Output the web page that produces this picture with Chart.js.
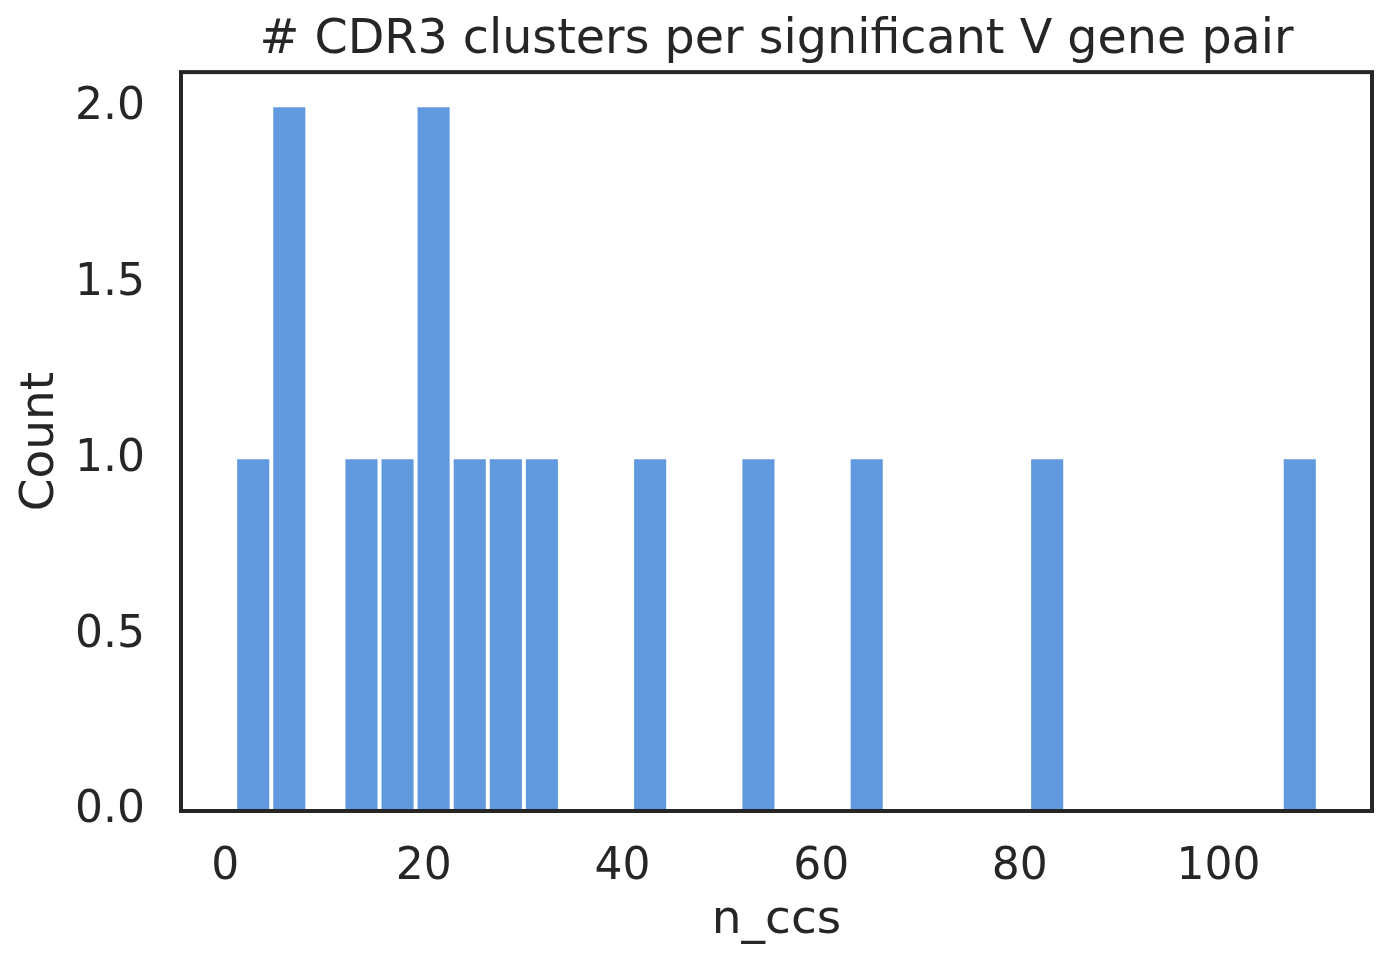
<!DOCTYPE html>
<html>
<head>
<meta charset="utf-8">
<script src="https://cdn.jsdelivr.net/npm/chart.js@4"></script>
<style>
  html, body { margin: 0; padding: 0; background: #fff; }
  #wrap { width: 1390px; height: 966px; }
</style>
</head>
<body>
<div id="wrap"><canvas id="histChart" width="1390" height="966"></canvas></div>
<script>
// bin centres of the 30 histogram bins (n_ccs from 1 to 110)
const binCenters = [2.82, 6.45, 10.08, 13.72, 17.35, 20.98, 24.62, 28.25, 31.88, 35.52,
    39.15, 42.78, 46.42, 50.05, 53.68, 57.32, 60.95, 64.58, 68.22, 71.85,
    75.48, 79.12, 82.75, 86.38, 90.02, 93.65, 97.28, 100.92, 104.55, 108.18];
const counts = [1, 2, 0, 1, 1, 2, 1, 1, 1, 0,
    0, 1, 0, 0, 1, 0, 0, 1, 0, 0,
    0, 0, 1, 0, 0, 0, 0, 0, 0, 1];
const xTicks = [0, 20, 40, 60, 80, 100];
const yTicks = [0, 0.5, 1, 1.5, 2];

const ink = '#262626';
Chart.defaults.font.family = '"DejaVu Sans", sans-serif';
Chart.defaults.color = ink;

// matplotlib-style box around the plot area
const frame = {
    id: 'frame',
    afterDatasetsDraw(chart) {
        const a = chart.chartArea;
        const ctx = chart.ctx;
        ctx.save();
        ctx.strokeStyle = ink;
        ctx.lineWidth = 4;
        ctx.strokeRect(a.left, a.top, a.right - a.left, a.bottom - a.top);
        ctx.restore();
    }
};

const histChart = new Chart(
    document.getElementById('histChart').getContext('2d'),
    {
        type: 'bar',
        data: {
            datasets: [{
                label: 'Count',
                data: binCenters.map((x, i) => ({ x: x, y: counts[i] })),
                backgroundColor: '#6199de',
                barPercentage: 0.89,
                categoryPercentage: 1
            }]
        },
        options: {
            responsive: false,
            animation: false,
            layout: { padding: { left: 0, right: 18, top: 0, bottom: 0 } },
            plugins: {
                legend: { display: false },
                tooltip: { enabled: false },
                title: {
                    display: true,
                    fullSize: false,
                    text: '# CDR3 clusters per significant V gene pair',
                    font: { size: 47.6, weight: 'normal' },
                    color: ink,
                    padding: { top: 12, bottom: 3 }
                }
            },
            scales: {
                x: {
                    type: 'linear',
                    offset: false,
                    min: -4.45,
                    max: 115.45,
                    grid: { display: false, offset: false },
                    border: { display: false },
                    ticks: { font: { size: 44 }, color: ink, padding: 22, maxRotation: 0 },
                    afterBuildTicks: s => { s.ticks = xTicks.map(v => ({ value: v })); },
                    afterFit: s => { s.height = 155; },
                    title: {
                        display: true,
                        text: 'n_ccs',
                        font: { size: 47 },
                        color: ink,
                        padding: { top: 0, bottom: 17 }
                    }
                },
                y: {
                    min: 0,
                    max: 2.1,
                    grid: { display: false },
                    border: { display: false },
                    ticks: {
                        font: { size: 44 },
                        color: ink,
                        padding: 28,
                        callback: v => v.toFixed(1)
                    },
                    afterBuildTicks: s => { s.ticks = yTicks.map(v => ({ value: v })); },
                    afterFit: s => { s.width = 181; },
                    title: {
                        display: true,
                        text: 'Count',
                        font: { size: 47 },
                        color: ink,
                        padding: { top: 13, bottom: 0 }
                    }
                }
            }
        },
        plugins: [frame]
    }
);
</script>
</body>
</html>
